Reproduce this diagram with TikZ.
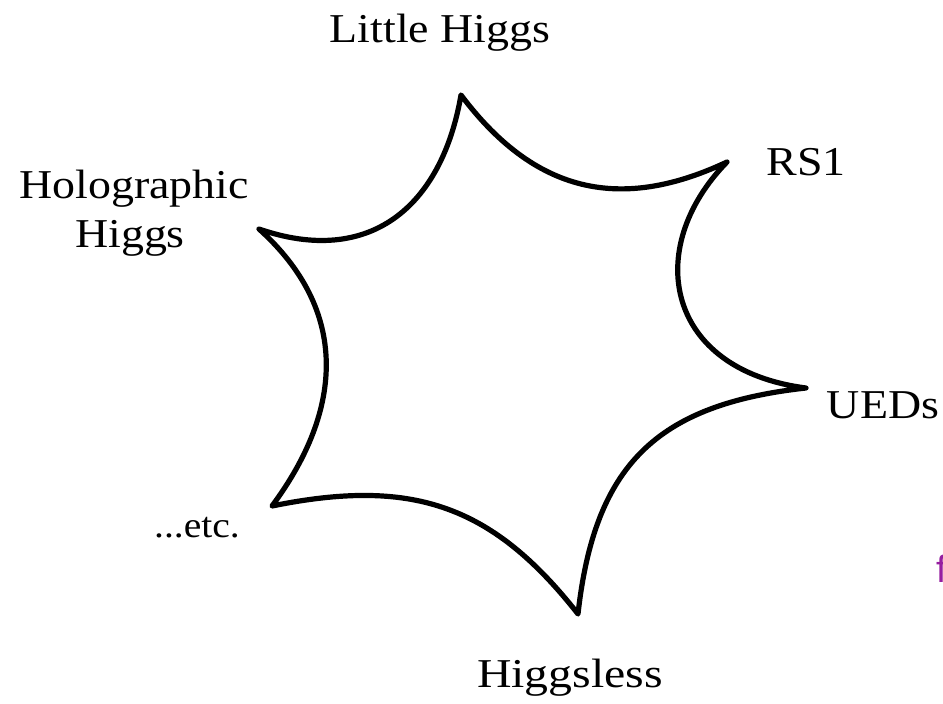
\documentclass[tikz,border=0pt]{standalone}
\usepackage{fontspec}
\setmainfont{Liberation Serif}
\setsansfont{Liberation Sans}
\definecolor{fpurple}{RGB}{150,30,160}
\tikzset{
  lbl/.style={font=\fontsize{41}{48}\selectfont, xscale=1.12, inner sep=0pt, anchor=base},
  smalllbl/.style={font=\fontsize{36}{42}\selectfont, xscale=1.1, inner sep=0pt, anchor=base},
  side/.style={line width=5.2pt, line join=round, line cap=round},
}
\begin{document}
\begin{tikzpicture}[x=1pt,y=-1pt]
\path[use as bounding box, clip] (0,0) rectangle (943,704);
\fill[white] (0,0) rectangle (943,704);
% vertices
\coordinate (T) at (461,95);
\coordinate (R) at (727,162);
\coordinate (U) at (806,388);
\coordinate (B) at (578,614);
\coordinate (E) at (272,506);
\coordinate (H) at (259,229);
% concave sides
\draw[side] (T) .. controls (539,199) and (627,209) .. (R)
  .. controls (642,249) and (666,370) .. (U)
  .. controls (656,404.5) and (594.5,465.5) .. (B)
  .. controls (491,503) and (410,478) .. (E)
  .. controls (344,409) and (349,310) .. (H)
  .. controls (369,267) and (441.5,207.7) .. (T) -- cycle;
% labels
\node[lbl] (little) at (440,42) {Little Higgs};
\node[lbl] (rs1) at (806,175) {RS1};
\node[lbl] (holo1) at (134,198) {Holographic};
\node[lbl] (holo2) at (130,247) {Higgs};
\node[lbl] (ueds) at (883,418) {UEDs};
\node[smalllbl] (etc) at (197,537) {...etc.};
\node[lbl, xscale=1.04] (hless) at (570,687) {Higgsless};
\node[font=\sffamily\fontsize{38}{44}\selectfont, text=fpurple, inner sep=0pt, anchor=base west] (f) at (936,582) {f};
\end{tikzpicture}
\end{document}
